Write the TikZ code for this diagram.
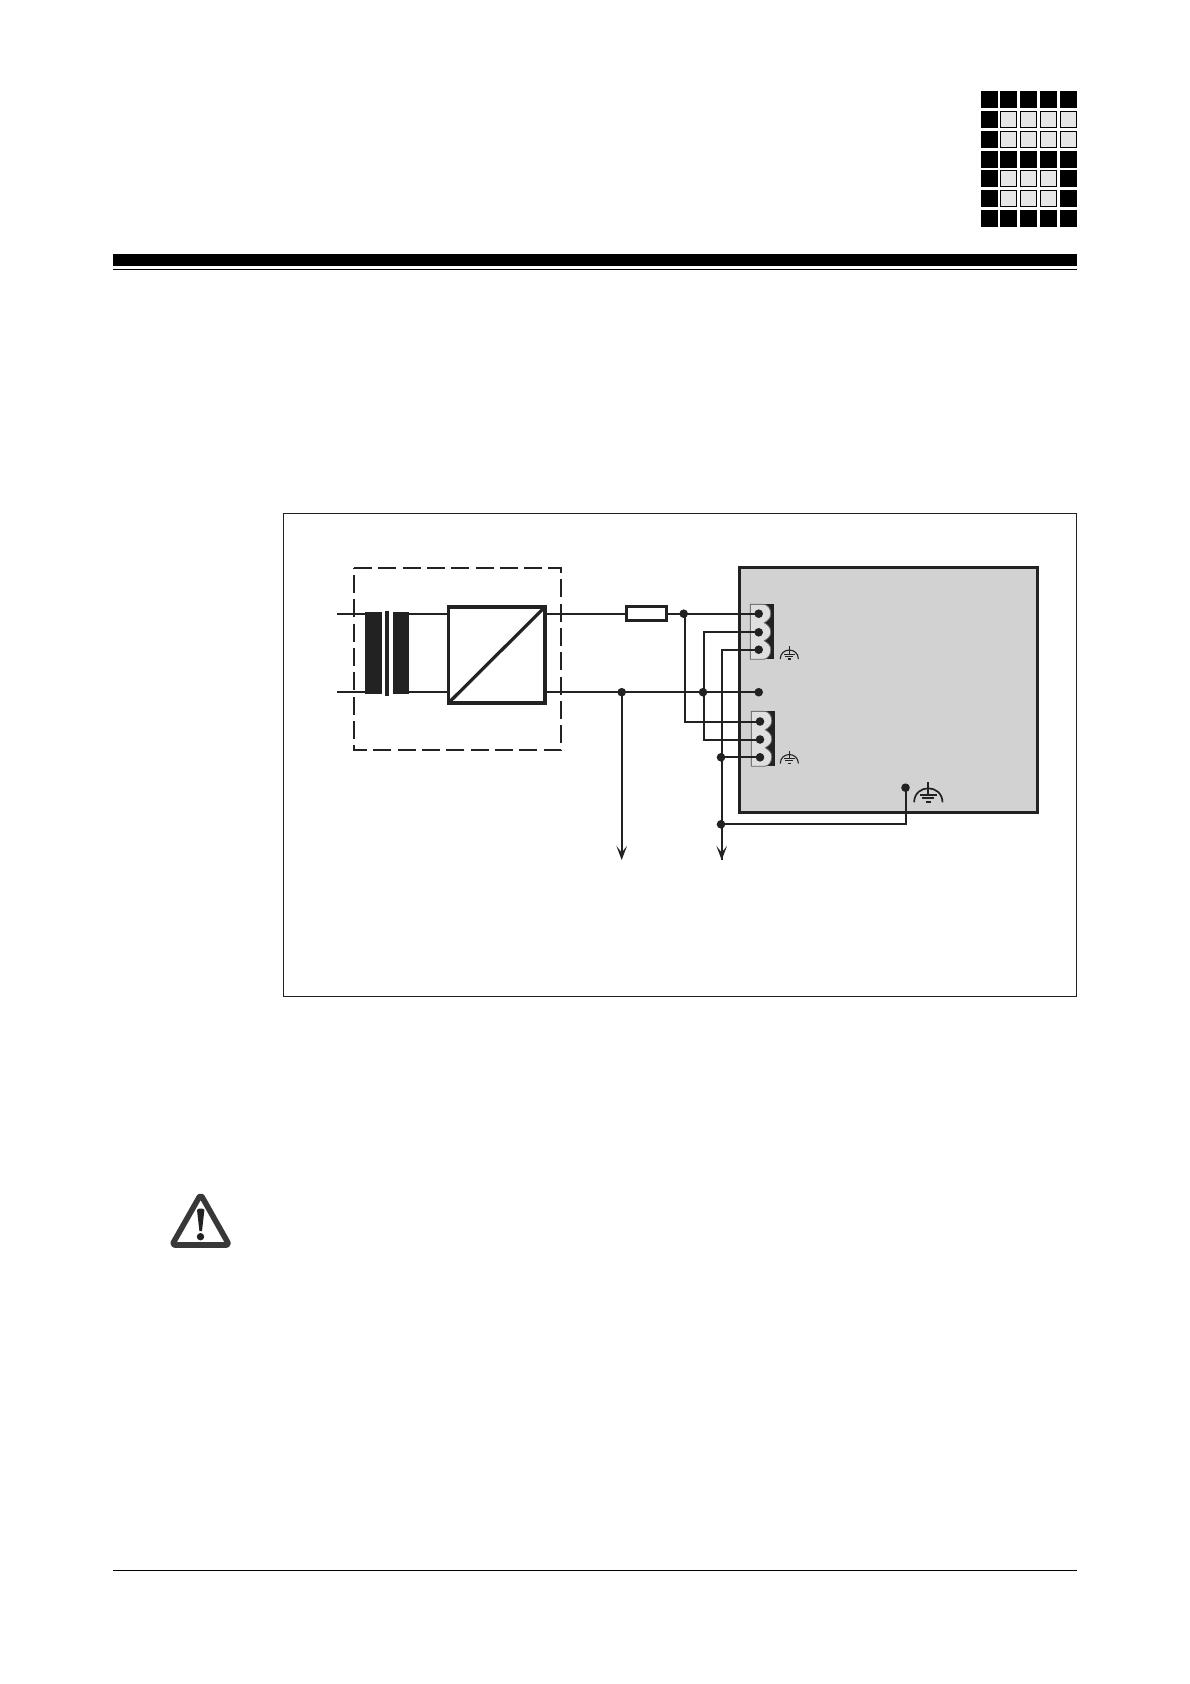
\documentclass[tikz,border=0pt]{standalone}
\usetikzlibrary{arrows.meta}
\definecolor{ink}{HTML}{222222}
\definecolor{panel}{HTML}{D2D2D2}
\definecolor{logolight}{HTML}{E6E6E6}
\tikzset{
  wire/.style={draw=ink,line width=2pt},
  thick box/.style={draw=ink,line width=3.2pt},
  junct/.style={circle,fill=ink,draw=none,minimum size=8.6pt,inner sep=0pt,outer sep=0pt},
  solidk/.style={fill=black,draw=none,minimum width=17.4pt,minimum height=17.4pt,inner sep=0pt,outer sep=0pt,anchor=north west},
  lightk/.style={fill=logolight,draw=black,line width=1.4pt,minimum width=16pt,minimum height=16pt,inner sep=0pt,outer sep=.7pt,anchor=north west},
  arrowed/.style={-{Stealth[length=14pt,width=10.5pt,inset=6.5pt]}},
}
\newcommand{\kbox}[3]{\node[#1] (k#2#3) at ({\csname kx#2\endcsname},{-\csname ky#3\endcsname}) {};}
\expandafter\def\csname kx1\endcsname{981}
\expandafter\def\csname kx2\endcsname{1000}
\expandafter\def\csname kx3\endcsname{1020}
\expandafter\def\csname kx4\endcsname{1040}
\expandafter\def\csname kx5\endcsname{1060}
\expandafter\def\csname ky1\endcsname{91}
\expandafter\def\csname ky2\endcsname{111}
\expandafter\def\csname ky3\endcsname{131}
\expandafter\def\csname ky4\endcsname{150.5}
\expandafter\def\csname ky5\endcsname{170}
\expandafter\def\csname ky6\endcsname{190}
\expandafter\def\csname ky7\endcsname{210}
% terminal block: #1 = top left corner
\newcommand{\terminal}[1]{%
  \begin{scope}[shift={(#1)}]
    \fill[ink] (0,0) rectangle (23.7,-55);
    \fill[panel!70!white,draw=ink!70,line width=.8pt] (0,0) -- (13,0)
      to[out=0,in=90] (20.5,-9.4) to[out=-90,in=30] (14,-18.5)
      to[out=-30,in=90] (20.5,-27.7) to[out=-90,in=30] (14,-36.5)
      to[out=-30,in=90] (20.5,-45.4) to[out=-90,in=0] (13,-55) -- (0,-55) -- cycle;
  \end{scope}}
% earth symbol: #1 = top point, #2 = scale, #3 = line width
\newcommand{\earth}[3]{%
  \begin{scope}[shift={(#1)},scale=#2,draw=ink,line width=#3]
    \draw (-14.2,-20.3) .. controls (-14,-11) and (-7,-6.3) .. (0,-6.3)
       .. controls (7,-6.3) and (14,-11) .. (14.2,-20.3);
    \draw (0,0) -- (0,-12.7);
    \draw (-8.5,-12.7) -- (8.5,-12.7);
    \draw (-6,-16.3) -- (6,-16.3);
    \draw (-2.5,-20.3) -- (2.5,-20.3);
  \end{scope}}
\begin{document}
\begin{tikzpicture}[x=1pt,y=1pt]
\useasboundingbox (0,0) rectangle (1190,-1684);
\fill[white] (0,0) rectangle (1190,-1684);

% logo
\foreach \c in {1,...,5}{\kbox{solidk}{\c}{1}\kbox{solidk}{\c}{4}\kbox{solidk}{\c}{7}}
\foreach \r in {2,3,5,6}{\kbox{solidk}{1}{\r}}
\foreach \c in {2,3,4,5}{\kbox{lightk}{\c}{2}\kbox{lightk}{\c}{3}}
\foreach \r in {5,6}{\kbox{solidk}{5}{\r}}
\foreach \c in {2,3,4}{\kbox{lightk}{\c}{5}\kbox{lightk}{\c}{6}}

% header and footer rules
\fill[black] (113,-254) rectangle (1077,-265.7);
\fill[black] (113,-268.8) rectangle (1077,-270);
\fill[black] (113,-1570) rectangle (1077,-1571);

% frame
\draw[draw=ink,line width=.9pt] (283.5,-513) rectangle (1076.5,-996.5);

% grey panel
\node[fill=panel,thick box,minimum width=298pt,minimum height=244.3pt,inner sep=0pt,outer sep=0pt,anchor=north west] (panel) at (739.4,-567.8) {};

% dashed enclosure
\draw[ink,line width=2pt,dash pattern=on 18pt off 6.3pt] (354,-567.7) -- (561,-567.7) -- (561,-750) -- (354,-750) -- cycle;

% terminal blocks
\terminal{750.3,-604.3}
\terminal{751.3,-711.3}

% transformer
\node[fill=ink,minimum width=17pt,minimum height=82pt,inner sep=0pt] (core1) at (373.5,-653) {};
\node[fill=ink,minimum width=3.8pt,minimum height=85pt,inner sep=0pt] (core2) at (387,-653) {};
\node[fill=ink,minimum width=16pt,minimum height=82pt,inner sep=0pt] (core3) at (401,-653) {};

% converter
\node[thick box,fill=white,minimum width=96.5pt,minimum height=96pt,inner sep=0pt,outer sep=0pt] (conv) at (496.7,-655) {};
\draw[ink,line width=3.2pt] (conv.south west) -- (conv.north east);

% fuse
\node[draw=ink,line width=2.6pt,fill=white,minimum width=40pt,minimum height=14pt,inner sep=0pt,outer sep=0pt] (fuse) at (646.7,-613.7) {};

% named points
\coordinate (inA) at (337.3,-613.7);
\coordinate (inB) at (337.3,-692.2);
\coordinate (coreA) at (365,-613.7);
\coordinate (coreB) at (365,-692.2);
\coordinate (secA) at (409,-613.7);
\coordinate (secB) at (409,-692.2);
\coordinate (priA) at (447.5,-613.7);
\coordinate (priB) at (447.5,-692.2);
\coordinate (outA) at (546,-613.7);
\coordinate (outB) at (546,-692.2);
\coordinate (busV) at (704,-632.3);
\coordinate (gndTop) at (721.7,-649.7);
\coordinate (cornerA) at (685,-721.5);
\coordinate (cornerB) at (704,-739.5);
\coordinate (cornerG) at (905.5,-824.3);
\coordinate (arrowL) at (621.7,-860);
\coordinate (arrowR) at (721.7,-860);

\node[junct] (jA) at (683.7,-613.7) {};
\node[junct] (jB) at (621.7,-692.2) {};
\node[junct] (jC) at (703,-692.2) {};
\node[junct] (jD) at (721,-757.3) {};
\node[junct] (jE) at (721,-824.3) {};
\node[junct] (pinA1) at (758.7,-613.7) {};
\node[junct] (pinA2) at (758.7,-632.3) {};
\node[junct] (pinA3) at (758.7,-649.7) {};
\node[junct] (pinM) at (758.7,-692.2) {};
\node[junct] (pinB1) at (760,-721.5) {};
\node[junct] (pinB2) at (760,-739.5) {};
\node[junct] (pinB3) at (760,-757.3) {};
\node[junct] (pinG) at (905.5,-787.7) {};

% wires
\draw[wire] (inA) -- (coreA);
\draw[wire] (inB) -- (coreB);
\draw[wire] (secA) -- (priA);
\draw[wire] (secB) -- (priB);
\draw[wire] (outA) -- (fuse.west);
\draw[wire] (outB) -- (jC.center) -- (pinM.center);
\draw[wire] (fuse.east) -- (pinA1.center);
\draw[wire] (cornerA |- jA) -- (cornerA) -- (pinB1.center);
\draw[wire] (pinA2.center) -- (busV) -- (cornerB) -- (pinB2.center);
\draw[wire] (pinA3.center) -- (gndTop) -- (arrowR);
\draw[wire] (jD.center) -- (pinB3.center);
\draw[wire] (pinG.center) -- (cornerG) -- (jE.center);
\draw[wire,arrowed] (jB.center) -- (arrowL);
\draw[wire,arrowed] (gndTop) -- (arrowR);

% earth symbols
\earth{928.3,-782}{1}{1.7pt}
\earth{789.3,-646}{.64}{1.1pt}
\earth{789.3,-750.5}{.64}{1.1pt}

% warning sign
\draw[draw=ink!90!white,line width=5.6pt,line join=round,rounded corners=3pt] (200.7,-1194.5) -- (229.2,-1245) -- (172,-1245) -- cycle;
\fill[ink] (197,-1210) .. controls (197,-1208) and (204.4,-1208) .. (204.4,-1210) -- (202,-1231) -- (199.4,-1231) -- cycle;
\fill[ink] (200.5,-1236.7) circle (3.7);
\end{tikzpicture}
\end{document}
